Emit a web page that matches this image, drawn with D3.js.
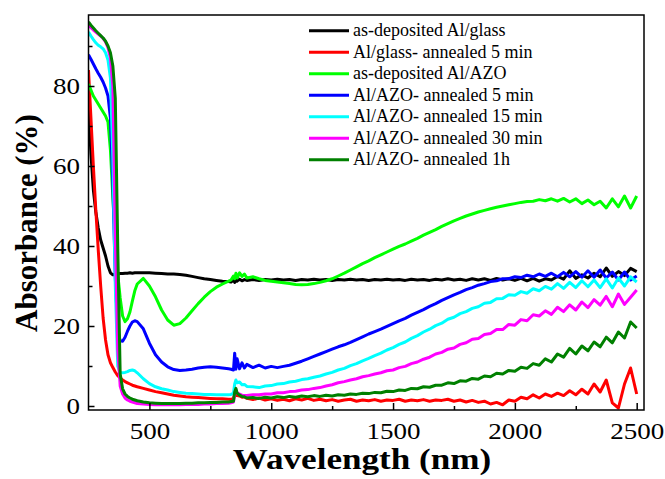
<!DOCTYPE html>
<html>
<head>
<meta charset="utf-8">
<script src="https://cdn.jsdelivr.net/npm/d3@7"></script>
<style>
  body { margin: 0; background: #fff; }
  svg { display: block; }
</style>
</head>
<body>
<svg id="chart" width="665" height="479"></svg>
<script>
// Wavelength grid (nm) shared by every spectrum
const wavelengths = [
  250, 260, 270, 280, 290, 300, 310, 320, 330, 340, 350, 360, 370, 380, 390, 400, 410, 420, 430, 440, 450,
  475, 500, 525, 550, 575, 600, 625, 650, 675, 700, 725, 750, 775, 800, 825,
  835, 845, 850, 855, 860, 870, 880, 890, 900,
  925, 950, 975, 1000, 1025, 1050, 1075, 1100,
  1125, 1150, 1175, 1200, 1225, 1250, 1275, 1300,
  1325, 1350, 1375, 1400, 1425, 1450, 1475, 1500,
  1525, 1550, 1575, 1600, 1625, 1650, 1675, 1700,
  1725, 1750, 1775, 1800, 1825, 1850, 1875, 1900,
  1925, 1950, 1975, 2000, 2025, 2050, 2075, 2100,
  2125, 2150, 2175, 2200, 2225, 2250, 2275, 2300,
  2325, 2350, 2375, 2400, 2425, 2450, 2475, 2500
];

// Absorbance (%) per sample
const asDepositedAlGlass = [
  75, 63, 54, 48.5, 44.5, 41.5, 39.5, 37.5, 35, 33.3, 32.8, 32.9, 33.0, 33.1, 33.1, 33.2, 33.2, 33.3, 33.2, 33.3, 33.3,
  33.3, 33.3, 33.2, 33.1, 33.0, 33.0, 32.9, 32.7, 32.4, 32.1, 31.8, 31.6, 31.4, 31.2, 31.1,
  31.0, 31.5, 30.9, 31.8, 31.2, 31.7, 31.3, 31.6, 31.4,
  31.6, 31.4, 31.6, 31.5, 31.7, 31.5, 31.6, 31.4,
  31.6, 31.5, 31.7, 31.5, 31.6, 31.4, 31.6, 31.5,
  31.7, 31.5, 31.6, 31.4, 31.6, 31.5, 31.7, 31.5,
  31.6, 31.4, 31.7, 31.5, 31.6, 31.4, 31.7, 31.5,
  31.8, 31.5, 31.7, 31.4, 31.8, 31.5, 31.8, 31.4,
  31.9, 31.5, 31.8, 31.4, 31.9, 31.3, 31.9, 31.2,
  31.8, 31.5, 32.4, 31.7, 33.8, 31.9, 32.8, 32.0,
  33.2, 32.3, 34.5, 32.4, 33.6, 32.6, 34.4, 33.6
];

const alGlassAnnealed5 = [
  84, 72, 60, 49, 39, 30, 22, 16.5, 12.8, 10.8, 9.6, 8.5, 7.6, 7.0, 6.5, 6.1, 5.8, 5.5, 5.2, 5.0, 4.8,
  4.4, 4.0, 3.6, 3.3, 3.0, 2.7, 2.5, 2.3, 2.2, 2.1, 2.0, 1.9, 1.8, 1.8, 1.7,
  1.7, 1.8, 3.0, 3.4, 2.6, 2.5, 2.2, 2.3, 1.9,
  1.6, 2.0, 1.5, 1.8, 1.4, 1.7, 1.3, 1.8,
  1.5, 1.9, 1.4, 1.7, 1.3, 1.6, 1.2, 1.5,
  1.7, 1.2, 1.5, 1.3, 1.6, 1.2, 1.5, 1.4,
  1.7, 1.2, 1.5, 1.3, 1.6, 1.2, 1.5, 1.4,
  1.7, 1.2, 1.5, 1.0, 1.4, 0.9, 1.2, 0.5,
  0.9, 0.3, 1.5, 1.2, 2.2, 1.8, 2.8, 2.0,
  3.0, 2.4, 3.2, 2.6, 3.8, 2.8, 4.2, 3.0,
  5.5, 3.5, 6.5, 0.8, -0.5, 5.5, 9.5, 3.0
];

const asDepositedAlAZO = [
  80.5, 79, 77.5, 76.5, 75.5, 74.5, 73.5, 72.5, 71, 64, 52, 42, 33, 27, 22.5, 21.1, 21.8, 23.5, 26.2, 28.8, 30.5,
  31.9, 30.0, 27.3, 24.0, 21.5, 20.2, 20.6, 22.0, 23.8, 25.6, 27.2, 28.6, 29.7, 30.5, 31.2,
  31.5, 32.5, 31.8, 33.2, 32.0, 33.3, 32.4, 33.0, 32.0,
  32.3, 31.8, 31.4, 31.2, 31.0, 30.8, 30.6, 30.4,
  30.3, 30.4, 30.6, 30.9, 31.3, 31.8, 32.5, 33.2,
  34.0, 34.8, 35.6, 36.3, 37.1, 37.8, 38.5, 39.2,
  39.9, 40.5, 41.2, 41.9, 42.7, 43.4, 44.1, 44.9,
  45.6, 46.3, 46.9, 47.5, 48.0, 48.5, 48.9, 49.3,
  49.7, 50.0, 50.3, 50.6, 50.9, 51.1, 51.2, 51.6,
  51.3, 51.8, 51.2, 51.9, 51.0, 51.8, 50.6, 51.5,
  50.3, 51.2, 49.5, 51.8, 49.8, 52.5, 49.5, 52.5
];

const alAZOAnnealed5 = [
  87.8, 86.7, 85.5, 84.3, 83.2, 82.2, 81, 79.5, 77.5, 72, 55, 32, 19, 16.3, 16.2, 17.2, 18.7, 20.0, 21.0, 21.3, 21.1,
  19.3, 15.7, 12.8, 11.0, 9.8, 9.1, 8.9, 9.0, 9.2, 9.5, 9.7, 9.8, 9.7, 9.5, 9.3,
  9.2, 9.0, 13.2, 9.2, 11.8, 9.3, 10.8, 9.5, 10.4,
  9.6, 10.2, 9.5, 9.9, 9.6, 9.9, 10.2, 10.7,
  11.2, 11.8, 12.4, 13.0, 13.6, 14.2, 14.8, 15.3,
  15.9, 16.6, 17.3, 18.0, 18.6, 19.2, 19.9, 20.6,
  21.3, 21.9, 22.7, 23.4, 24.1, 24.9, 25.6, 26.4,
  27.1, 27.8, 28.4, 29.1, 29.6, 30.2, 30.6, 31.1,
  31.3, 31.8, 31.8, 32.3, 32.1, 32.7, 32.3, 33.0,
  32.4, 33.2, 32.3, 33.4, 32.3, 33.6, 32.2, 33.8,
  32.2, 34.0, 32.0, 33.5, 31.5, 33.5, 31.5, 32.5
];

const alAZOAnnealed15 = [
  93.5, 92.5, 91.6, 90.8, 90.2, 89.8, 89.3, 88.3, 86.5, 82, 62, 30, 10, 8.3, 8.3, 8.4, 8.6, 8.9, 9.0, 8.8, 8.3,
  6.8, 5.6, 4.8, 4.3, 4.0, 3.6, 3.4, 3.2, 3.1, 3.0, 2.9, 2.9, 2.8, 2.8, 2.8,
  2.9, 3.2, 5.5, 6.5, 5.8, 6.0, 5.3, 5.4, 4.9,
  4.8, 4.6, 5.0, 5.1, 5.5, 5.6, 6.0, 6.2,
  6.6, 6.8, 7.2, 7.5, 8.0, 8.4, 9.0, 9.4,
  10.1, 10.6, 11.3, 11.9, 12.6, 13.2, 14.0, 14.6,
  15.4, 16.0, 16.9, 17.6, 18.5, 19.2, 20.1, 20.7,
  21.7, 22.2, 23.1, 23.6, 24.4, 24.8, 25.7, 25.9,
  26.8, 26.9, 27.8, 27.7, 28.6, 28.2, 29.3, 28.8,
  29.9, 29.2, 30.6, 29.4, 30.9, 29.6, 31.3, 29.8,
  31.5, 29.6, 31.8, 29.5, 32.0, 30.0, 32.3, 31.0
];

const alAZOAnnealed30 = [
  95.2, 94.6, 94.0, 93.5, 93.0, 92.5, 91.9, 91.0, 89.6, 87, 80, 42, 14, 5, 3, 2, 1.5, 1.2, 1.0, 0.8, 0.6,
  0.5, 0.4, 0.3, 0.3, 0.3, 0.3, 0.3, 0.4, 0.4, 0.4, 0.5, 0.5, 0.6, 0.6, 0.7,
  0.8, 1.0, 3.0, 4.0, 3.3, 3.0, 2.7, 2.6, 2.6,
  2.8, 2.8, 3.0, 3.0, 3.3, 3.3, 3.6, 3.7,
  4.0, 4.1, 4.4, 4.6, 5.0, 5.3, 5.8, 6.1,
  6.5, 6.8, 7.3, 7.6, 8.0, 8.3, 8.8, 9.0,
  9.6, 9.9, 10.6, 11.0, 11.7, 12.2, 13.0, 13.4,
  14.2, 14.5, 15.4, 15.8, 16.7, 16.9, 17.9, 18.1,
  19.1, 19.1, 20.4, 20.2, 21.6, 21.3, 22.8, 22.5,
  23.8, 22.9, 24.7, 23.6, 25.3, 24.0, 26.0, 24.6,
  26.6, 25.2, 27.4, 24.8, 28.0, 25.4, 27.2, 29.0
];

const alAZOAnnealed1h = [
  96.0, 95.2, 94.5, 93.8, 93.2, 92.6, 92.0, 91.2, 90.0, 88.3, 85, 77, 40, 8, 4.3, 3.0, 2.4, 2.0, 1.7, 1.5, 1.3,
  1.0, 0.8, 0.7, 0.6, 0.6, 0.6, 0.6, 0.7, 0.7, 0.8, 0.8, 0.9, 0.9, 1.0, 1.0,
  1.1, 1.2, 3.5, 4.4, 3.2, 2.7, 2.4, 2.3, 2.0,
  2.1, 1.9, 2.2, 2.0, 2.3, 2.1, 2.4, 2.2,
  2.5, 2.3, 2.6, 2.4, 2.7, 2.5, 2.8, 2.7,
  3.0, 2.9, 3.2, 3.1, 3.4, 3.3, 3.7, 3.6,
  4.0, 3.9, 4.4, 4.3, 4.8, 4.7, 5.2, 5.2,
  5.8, 5.6, 6.3, 6.2, 6.9, 6.7, 7.5, 7.3,
  8.2, 8.0, 8.9, 8.7, 9.7, 9.4, 10.6, 10.2,
  11.8, 11.0, 13.0, 12.2, 14.4, 13.0, 15.0, 13.8,
  16.0, 14.8, 17.2, 15.8, 18.5, 17.0, 21.0, 19.5
];

const seriesNames = [
  "as-deposited Al/glass",
  "Al/glass- annealed 5 min",
  "as-deposited Al/AZO",
  "Al/AZO- annealed 5 min",
  "Al/AZO- annealed 15 min",
  "Al/AZO- annealed 30 min",
  "Al/AZO- annealed 1h"
];
const seriesColors = ["#000000", "#ff0000", "#00ff00", "#0000ff", "#00ffff", "#ff00ff", "#008000"];
const seriesValues = [
  asDepositedAlGlass, alGlassAnnealed5, asDepositedAlAZO, alAZOAnnealed5,
  alAZOAnnealed15, alAZOAnnealed30, alAZOAnnealed1h
];

const xTicks = [500, 1000, 1500, 2000, 2500];
const xMinorTicks = [750, 1250, 1750, 2250];
const yTicks = [0, 20, 40, 60, 80];
const yMinorTicks = [10, 30, 50, 70, 90];

const xLabel = "Wavelength (nm)";
const yLabel = "Absorbance (%)";

// ---- layout ----
const plot = { left: 88.5, right: 644, top: 15, bottom: 410 };
const serif = "'Liberation Serif', 'Times New Roman', serif";

const svg = d3.select("#chart");

const x = d3.scaleLinear().domain([250, 2530]).range([plot.left, plot.right]);
const y = d3.scaleLinear().domain([-1, 97.75]).range([plot.bottom, plot.top]);

// widen glyph runs horizontally by a factor
function stretch(sel, k) {
  sel.each(function () {
    const w = this.getComputedTextLength();
    d3.select(this).attr("textLength", w * k).attr("lengthAdjust", "spacingAndGlyphs");
  });
}

svg.append("defs").append("clipPath").attr("id", "plot-clip")
  .append("rect")
  .attr("x", plot.left).attr("y", plot.top)
  .attr("width", plot.right - plot.left).attr("height", plot.bottom - plot.top);

// spectra
const line = d3.line()
  .x((d, i) => x(wavelengths[i]))
  .y(d => y(d));

const curves = svg.append("g").attr("clip-path", "url(#plot-clip)");
seriesValues.forEach((vals, i) => {
  curves.append("path")
    .datum(vals)
    .attr("d", line)
    .attr("fill", "none")
    .attr("stroke", seriesColors[i])
    .attr("stroke-width", 3)
    .attr("stroke-linejoin", "round");
});

// axes with inward ticks
const xAxis = svg.append("g")
  .attr("transform", `translate(0,${plot.bottom})`)
  .call(d3.axisBottom(x).tickValues(xTicks).tickSize(-7).tickFormat(d3.format("d")));
svg.append("g")
  .attr("transform", `translate(0,${plot.bottom})`)
  .call(d3.axisBottom(x).tickValues(xMinorTicks).tickSize(-4).tickFormat(""))
  .call(g => g.select(".domain").remove());

const yAxis = svg.append("g")
  .attr("transform", `translate(${plot.left},0)`)
  .call(d3.axisLeft(y).tickValues(yTicks).tickSize(-6).tickPadding(8.5));
svg.append("g")
  .attr("transform", `translate(${plot.left},0)`)
  .call(d3.axisLeft(y).tickValues(yMinorTicks).tickSize(-4).tickFormat(""))
  .call(g => g.select(".domain").remove());

svg.selectAll(".tick line").attr("stroke", "#000").attr("stroke-width", 1.5);
[xAxis, yAxis].forEach(g => g.select(".domain").remove());

xAxis.selectAll("text")
  .attr("y", 28.5).attr("dy", null)
  .attr("font-family", serif).attr("font-size", 22.5).attr("fill", "#000");
yAxis.selectAll("text")
  .attr("font-family", serif).attr("font-size", 22.5).attr("fill", "#000");
stretch(xAxis.selectAll("text"), 1.2);
stretch(yAxis.selectAll("text"), 1.2);

// frame
svg.append("rect")
  .attr("x", plot.left).attr("y", plot.top)
  .attr("width", plot.right - plot.left).attr("height", plot.bottom - plot.top)
  .attr("fill", "none").attr("stroke", "#000").attr("stroke-width", 1.5);

// axis titles
const xt = svg.append("text")
  .attr("x", 362).attr("y", 469)
  .attr("text-anchor", "middle")
  .attr("font-family", serif).attr("font-weight", "bold").attr("font-size", 29.5)
  .text(xLabel);
stretch(xt, 1.19);

svg.append("text")
  .attr("transform", "translate(37,223) rotate(-90)")
  .attr("text-anchor", "middle")
  .attr("font-family", serif).attr("font-weight", "bold").attr("font-size", 31)
  .text(yLabel);

// legend
const legend = svg.append("g");
seriesNames.forEach((name, i) => {
  const cy = 30.7 + i * 21.5;
  legend.append("line")
    .attr("x1", 309).attr("x2", 349).attr("y1", cy).attr("y2", cy)
    .attr("stroke", seriesColors[i]).attr("stroke-width", 3);
  legend.append("text")
    .attr("x", 353).attr("y", cy + 5.5)
    .attr("font-family", serif).attr("font-size", 18)
    .text(name);
});
</script>
</body>
</html>
